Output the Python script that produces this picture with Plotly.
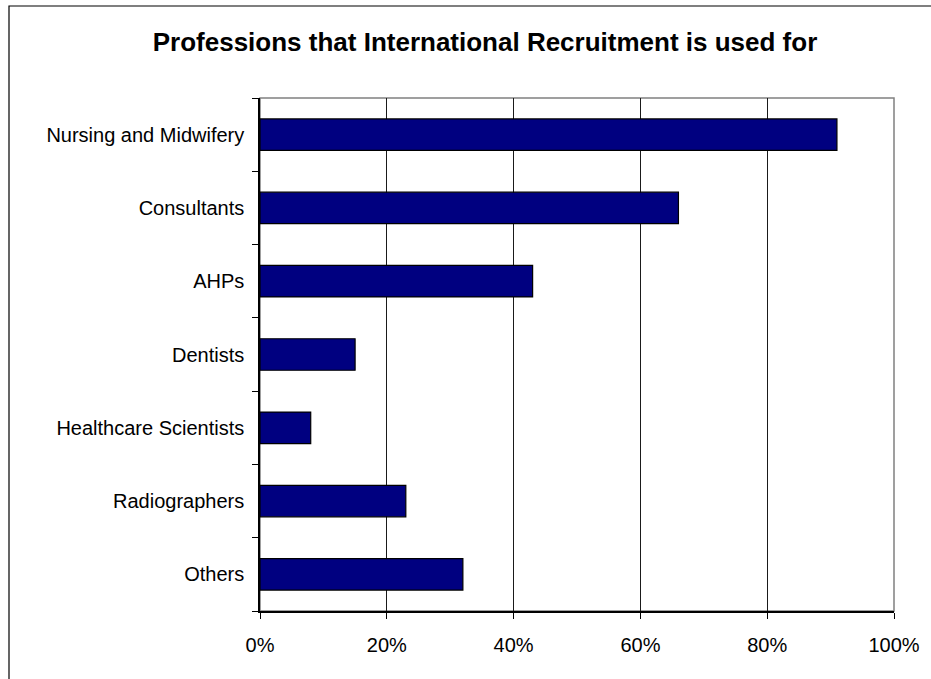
import plotly.graph_objects as go

# Share of organisations using international recruitment, by profession
professions = [
    "Nursing and Midwifery",
    "Consultants",
    "AHPs",
    "Dentists",
    "Healthcare Scientists",
    "Radiographers",
    "Others",
]
shares = [0.91, 0.66, 0.43, 0.15, 0.08, 0.23, 0.32]
x_ticks = [0, 0.2, 0.4, 0.6, 0.8, 1.0]

W, H = 931, 679
L, R, T, B = 260, 37, 98, 68
pw, ph = W - L - R, H - T - B

FONT = "Liberation Sans, Arial, sans-serif"

fig = go.Figure(
    go.Bar(
        x=shares,
        y=professions,
        orientation="h",
        width=0.43,
        marker=dict(color="#000080", line=dict(color="#000000", width=1.2)),
        hoverinfo="x+y",
    )
)

# outer chart frame (left/top edges fall inside the page)
fig.add_shape(
    type="rect", xref="paper", yref="paper",
    x0=(9 - L) / pw, x1=(W + 10 - L) / pw,
    y0=(H - B - (H + 10)) / ph, y1=(H - B - 6) / ph,
    line=dict(color="#000000", width=1.2), layer="below",
)
# plot-area border
fig.add_shape(
    type="rect", xref="paper", yref="paper", x0=0, x1=1, y0=0, y1=1,
    line=dict(color="#808080", width=1.5), layer="below",
)

fig.update_layout(
    width=W, height=H,
    margin=dict(l=L, r=R, t=T, b=B),
    paper_bgcolor="white", plot_bgcolor="white",
    font=dict(family=FONT, color="#000000", size=20),
    showlegend=False,
    title=dict(
        text="<b>Professions that International Recruitment is used for</b>",
        font=dict(family=FONT, size=26, color="#000000"),
        x=485 / W, xanchor="center",
        y=1 - 42 / H, yanchor="middle",
    ),
    xaxis=dict(
        range=[0, 1],
        tickvals=x_ticks,
        tickformat=".0%",
        showgrid=True, gridcolor="#1a1a1a", gridwidth=1,
        zeroline=False,
        showline=True, linecolor="#000000", linewidth=1.5,
        ticks="outside", ticklen=6, tickcolor="#000000", tickwidth=1,
        ticklabelstandoff=9,
        tickfont=dict(size=20),
    ),
    yaxis=dict(
        categoryorder="array",
        categoryarray=professions[::-1],
        tickson="boundaries",
        showgrid=False, zeroline=False,
        showline=True, linecolor="#000000", linewidth=1.5,
        ticks="outside", ticklen=6, tickcolor="#000000", tickwidth=1,
        ticklabelstandoff=10,
        tickfont=dict(size=20),
    ),
    bargap=0.57,
)

fig.write_html("out.html")
